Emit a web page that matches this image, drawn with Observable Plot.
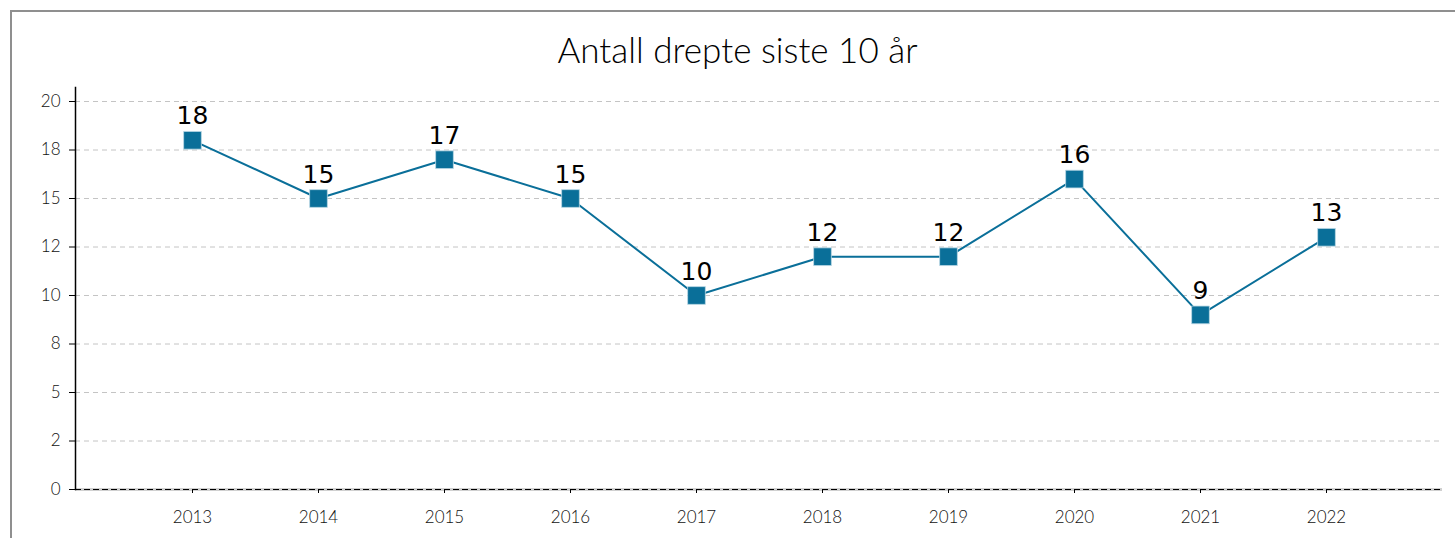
<!DOCTYPE html>
<html><head><meta charset="utf-8">
<script src="https://cdn.jsdelivr.net/npm/d3@7"></script>
<script src="https://cdn.jsdelivr.net/npm/@observablehq/plot@0.6"></script>
<style>
html,body{margin:0;padding:0;background:#fff;overflow:hidden;}
#frame{position:absolute;left:10px;top:10px;width:1500px;height:600px;border:2px solid #8f8f8f;box-sizing:border-box;pointer-events:none;}
#title{height:82px;box-sizing:border-box;padding-top:32px;text-align:center;font-family:Lato;font-weight:300;font-size:35px;color:#000;padding-left:20px;line-height:1;}
#chart svg{display:block;}
</style></head><body>
<div id="frame"></div>
<div id="title">Antall drepte siste 10 år</div>
<div id="chart"></div>
<script>
const years = ["2013","2014","2015","2016","2017","2018","2019","2020","2021","2022"];
const killed = [18,15,17,15,10,12,12,16,9,13];
const yTickValues = [0,2.5,5,7.5,10,12.5,15,17.5,20];
const yTickLabels = ["0","2","5","8","10","12","15","18","20"];
const data = years.map((y,i)=>({year:y, value:killed[i]}));
const color = "#0a6f99";
const plot = Plot.plot({
  width:1455, height:456, marginLeft:75, marginRight:13, marginTop:19, marginBottom:49,
  style:{fontFamily:"Lato", fontSize:"17px", background:"transparent", overflow:"visible", color:"#000"},
  x:{type:"point", domain:years, padding:0.91, label:null},
  y:{domain:[0,20], label:null},
  marks:[
    Plot.gridY(yTickValues.filter(v=>v>0), {stroke:"#c4c4c4", strokeOpacity:1, strokeDasharray:"5,4"}),
    Plot.ruleY([0], {stroke:"#d0d0d0", strokeWidth:3}),
    Plot.ruleY([0], {stroke:"#000", strokeDasharray:"6,3"}),
    Plot.frame({anchor:"left", insetTop:-14, stroke:"#000", strokeWidth:1.5}),
    Plot.axisY({ticks: yTickValues, tickFormat: d => yTickLabels[yTickValues.indexOf(d)], tickSize:6, tickPadding:9, fontWeight:300, fill:"#111", label:null}),
    Plot.axisX({tickSize:4, tickPadding:17, fontWeight:300, fill:"#111", label:null}),
    Plot.line(data,{x:"year", y:"value", stroke:color, strokeWidth:2}),
    Plot.dot(data,{x:"year", y:"value", symbol:"square", r:10, fill:color, stroke:"#bcd9e6", strokeWidth:0.8}),
    Plot.text(data,{x:"year", y:"value", text:d=>String(d.value), dy:-16, lineAnchor:"bottom", fontSize:25, fontFamily:"DejaVu Sans", fill:"#000"})
  ]
});
document.getElementById("chart").appendChild(plot);
</script>
</body></html>
